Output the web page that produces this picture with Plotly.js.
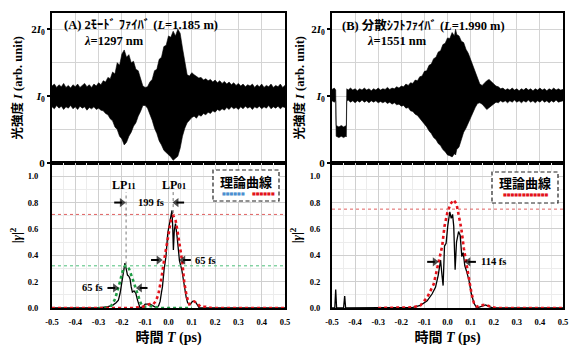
<!DOCTYPE html>
<html><head><meta charset="utf-8">
<script src="https://cdn.plot.ly/plotly-3.0.1.min.js"></script>
<style>html,body{margin:0;padding:0;background:#fff}#chart{width:580px;height:357px}</style>
</head><body><div id="chart"></div>
<script>
// ---------- DATA ----------
// (A) 2-mode fiber interferogram envelope (sampled every 0.01 ps)
const aT = [-0.50,-0.49,-0.48,-0.47,-0.46,-0.45,-0.44,-0.43,-0.42,-0.41,-0.40,-0.39,-0.38,-0.37,-0.36,-0.35,-0.34,-0.33,-0.32,-0.31,-0.30,-0.29,-0.28,-0.27,-0.26,-0.25,-0.24,-0.23,-0.22,-0.21,-0.20,-0.19,-0.18,-0.17,-0.16,-0.15,-0.14,-0.13,-0.12,-0.11,-0.10,-0.09,-0.08,-0.07,-0.06,-0.05,-0.04,-0.03,-0.02,-0.01,0.00,0.01,0.02,0.03,0.04,0.05,0.06,0.07,0.08,0.09,0.10,0.11,0.12,0.13,0.14,0.15,0.16,0.17,0.18,0.19,0.20,0.21,0.22,0.23,0.24,0.25,0.26,0.27,0.28,0.29,0.30,0.31,0.32,0.33,0.34,0.35,0.36,0.37,0.38,0.39,0.40,0.41,0.42,0.43,0.44,0.45,0.46,0.47,0.48,0.49,0.50];
const aUp = [1.15,1.18,1.13,1.17,1.14,1.19,1.13,1.16,1.12,1.17,1.14,1.18,1.13,1.16,1.19,1.14,1.17,1.13,1.18,1.15,1.20,1.17,1.23,1.21,1.28,1.26,1.36,1.33,1.50,1.46,1.63,1.69,1.58,1.62,1.50,1.52,1.40,1.38,1.26,1.15,1.13,1.14,1.21,1.25,1.38,1.40,1.55,1.58,1.74,1.76,1.90,1.88,1.97,1.90,2.00,1.94,1.72,1.52,1.32,1.30,1.35,1.32,1.29,1.27,1.28,1.24,1.26,1.23,1.25,1.21,1.24,1.20,1.23,1.19,1.22,1.18,1.21,1.17,1.20,1.16,1.19,1.15,1.18,1.14,1.17,1.15,1.18,1.13,1.17,1.14,1.18,1.13,1.16,1.14,1.18,1.13,1.16,1.14,1.18,1.13,1.16];
const aLo = [0.84,0.81,0.86,0.82,0.85,0.80,0.84,0.82,0.86,0.81,0.84,0.80,0.85,0.82,0.84,0.79,0.83,0.81,0.84,0.80,0.82,0.79,0.78,0.74,0.72,0.66,0.63,0.54,0.50,0.40,0.36,0.27,0.31,0.40,0.46,0.55,0.60,0.70,0.77,0.86,0.86,0.82,0.73,0.64,0.52,0.44,0.33,0.27,0.19,0.16,0.12,0.09,0.04,0.07,0.10,0.22,0.40,0.52,0.60,0.64,0.68,0.70,0.67,0.72,0.70,0.74,0.72,0.76,0.74,0.78,0.76,0.80,0.78,0.81,0.79,0.83,0.80,0.84,0.81,0.83,0.80,0.84,0.81,0.85,0.82,0.84,0.80,0.84,0.82,0.85,0.81,0.84,0.82,0.86,0.81,0.84,0.82,0.85,0.81,0.84,0.83];

// (B) dispersion-shifted fiber interferogram envelope
const bT = [-0.50,-0.49,-0.484,-0.482,-0.47,-0.46,-0.45,-0.44,-0.438,-0.436,-0.43,-0.42,-0.41,-0.40,-0.39,-0.38,-0.37,-0.36,-0.35,-0.34,-0.33,-0.32,-0.31,-0.30,-0.29,-0.28,-0.27,-0.26,-0.25,-0.24,-0.23,-0.22,-0.21,-0.20,-0.19,-0.18,-0.17,-0.16,-0.15,-0.14,-0.13,-0.12,-0.11,-0.10,-0.09,-0.08,-0.07,-0.06,-0.05,-0.04,-0.03,-0.02,-0.01,0.00,0.01,0.02,0.03,0.035,0.04,0.05,0.06,0.07,0.08,0.09,0.10,0.11,0.12,0.13,0.14,0.15,0.16,0.17,0.18,0.19,0.20,0.21,0.22,0.23,0.24,0.25,0.26,0.27,0.28,0.29,0.30,0.31,0.32,0.33,0.34,0.35,0.36,0.37,0.38,0.39,0.40,0.41,0.42,0.43,0.44,0.45,0.46,0.47,0.48,0.49,0.50];
const bUp = [1.10,1.12,1.09,0.56,0.54,0.56,0.54,0.55,0.56,1.11,1.09,1.12,1.09,1.11,1.08,1.11,1.09,1.12,1.09,1.11,1.08,1.11,1.09,1.12,1.09,1.11,1.10,1.13,1.10,1.12,1.11,1.14,1.12,1.15,1.14,1.18,1.16,1.20,1.19,1.24,1.23,1.29,1.30,1.37,1.38,1.46,1.48,1.56,1.58,1.66,1.68,1.77,1.79,1.87,1.86,1.95,1.90,2.00,1.92,1.90,1.82,1.80,1.70,1.64,1.55,1.44,1.34,1.25,1.18,1.16,1.20,1.23,1.25,1.22,1.18,1.15,1.14,1.11,1.12,1.09,1.11,1.09,1.12,1.09,1.11,1.08,1.11,1.09,1.12,1.09,1.11,1.08,1.11,1.09,1.12,1.09,1.11,1.08,1.11,1.09,1.12,1.09,1.11,1.09,1.10];
const bLo = [0.93,0.91,0.93,0.40,0.38,0.40,0.38,0.40,0.39,0.92,0.94,0.91,0.93,0.90,0.93,0.91,0.94,0.91,0.93,0.90,0.93,0.91,0.93,0.90,0.92,0.90,0.92,0.89,0.91,0.88,0.90,0.87,0.88,0.85,0.86,0.82,0.83,0.78,0.77,0.73,0.71,0.66,0.63,0.58,0.54,0.48,0.44,0.38,0.35,0.29,0.26,0.20,0.17,0.12,0.11,0.09,0.14,0.12,0.20,0.24,0.36,0.46,0.52,0.60,0.68,0.75,0.83,0.89,0.90,0.88,0.84,0.80,0.82,0.86,0.88,0.91,0.90,0.93,0.91,0.93,0.90,0.93,0.91,0.94,0.91,0.93,0.90,0.93,0.91,0.94,0.91,0.93,0.90,0.93,0.91,0.94,0.91,0.93,0.90,0.93,0.91,0.94,0.91,0.92,0.93];

// (A) |gamma|^2 measured
const aMeasT = [-0.5,-0.3,-0.26,-0.24,-0.225,-0.215,-0.208,-0.2,-0.193,-0.187,-0.182,-0.176,-0.17,-0.165,-0.16,-0.155,-0.148,-0.14,-0.133,-0.127,-0.122,-0.11,-0.1,-0.09,-0.08,-0.07,-0.06,-0.05,-0.042,-0.036,-0.03,-0.026,-0.019,-0.011,-0.003,0.004,0.011,0.015,0.018,0.021,0.025,0.03,0.037,0.047,0.057,0.068,0.076,0.082,0.092,0.103,0.11,0.118,0.125,0.132,0.2,0.5];
const aMeasG = [0,0,0.01,0.02,0.04,0.06,0.11,0.2,0.27,0.34,0.30,0.25,0.24,0.22,0.16,0.12,0.13,0.11,0.06,0.02,0,0.01,0.03,0.03,0.03,0.02,0.01,0,0.02,0.05,0.12,0.16,0.29,0.39,0.57,0.64,0.72,0.74,0.62,0.44,0.59,0.64,0.54,0.36,0.29,0.16,0.08,0.04,0.025,0.05,0.05,0.04,0.02,0,0,0];
// (A) theory LP11 (green) and LP01 (red)
const aLP11T = [-0.3,-0.27,-0.25,-0.24,-0.229,-0.222,-0.215,-0.208,-0.2,-0.193,-0.186,-0.179,-0.172,-0.165,-0.158,-0.15,-0.143,-0.136,-0.129,-0.122,-0.115,-0.105,-0.094,-0.08,-0.06,-0.04,0.0,0.05,0.1];
const aLP11G = [0,0,0.01,0.03,0.07,0.11,0.16,0.2,0.26,0.3,0.32,0.32,0.31,0.28,0.24,0.2,0.16,0.12,0.08,0.05,0.02,0.01,0.01,0.015,0.01,0,0,0,0];
const aLP01T = [-0.5,-0.3,-0.15,-0.11,-0.094,-0.08,-0.065,-0.055,-0.044,-0.037,-0.03,-0.02,-0.008,0.003,0.011,0.021,0.031,0.039,0.049,0.059,0.068,0.078,0.089,0.1,0.11,0.12,0.137,0.16,0.186,0.25,0.5];
const aLP01G = [0,0,0,0.01,0.02,0.03,0.03,0.05,0.1,0.16,0.23,0.35,0.48,0.6,0.67,0.7,0.66,0.58,0.47,0.35,0.19,0.09,0.03,0.04,0.05,0.04,0.01,0.01,0,0,0];

// (B) |gamma|^2 measured
const bMeasT = [-0.5,-0.488,-0.484,-0.48,-0.45,-0.445,-0.441,-0.2,-0.15,-0.117,-0.088,-0.067,-0.052,-0.04,-0.03,-0.024,-0.019,-0.013,-0.006,0.001,0.01,0.016,0.022,0.027,0.033,0.039,0.048,0.055,0.062,0.068,0.075,0.084,0.093,0.103,0.114,0.126,0.145,0.165,0.18,0.2,0.5];
const bMeasG = [0,0,0.14,0,0,0.09,0,0,0.005,0.02,0.054,0.106,0.157,0.25,0.364,0.25,0.17,0.47,0.49,0.62,0.73,0.68,0.71,0.62,0.29,0.5,0.58,0.55,0.39,0.42,0.32,0.27,0.21,0.11,0.04,0,0.01,0.023,0.01,0,0];
// (B) theory (red)
const bThT = [-0.3,-0.2,-0.15,-0.117,-0.088,-0.06,-0.038,-0.023,-0.013,-0.001,0.013,0.027,0.039,0.049,0.06,0.071,0.083,0.093,0.103,0.114,0.128,0.143,0.165,0.187,0.21,0.3,0.5];
const bThG = [0,0,0.005,0.02,0.08,0.18,0.34,0.47,0.62,0.72,0.79,0.82,0.79,0.71,0.6,0.45,0.32,0.21,0.12,0.04,0.01,0.02,0.025,0.01,0,0,0];

// reference levels, LP centers, FWHM markers
const aRedLevel = 0.71, aGreenLevel = 0.32, bRedLevel = 0.75;
const lpCenters = [-0.182, 0.02];
const lpLabels = ['LP<span style="font-size:9px">11</span>', 'LP<span style="font-size:9px">01</span>'];
const sepLevel = 0.80, sepLabel = '199 fs';
const aFwhm11 = {y: 0.152, t0: -0.215, t1: -0.137, label: '65 fs', labelT: -0.328};
const aFwhm01 = {y: 0.364, t0: -0.028, t1: 0.049, label: '65 fs', labelT: 0.159};
const bFwhm = {y: 0.35, t0: -0.041, t1: 0.076, label: '114 fs', labelT: 0.199};
const legendTitle = '理論曲線';

// tick labels
const xTickVals = [-0.5,-0.4,-0.3,-0.2,-0.1,0,0.1,0.2,0.3,0.4,0.5];
const xTickText = ['-0.5','-0.4','-0.3','-0.2','-0.1','0.0','0.1','0.2','0.3','0.4','0.5'];
const gTickVals = [0,0.2,0.4,0.6,0.8,1.0];
const gTickText = ['0.0','0.2','0.4','0.6','0.8','1.0'];
const iTickVals = [0,1,2];
const iTickText = ['0','<i>I</i><sub>0</sub>','2<i>I</i><sub>0</sub>'];

// ---------- LAYOUT HELPERS ----------
const W = 580, H = 357;
const px = v => v / W, py = v => 1 - v / H;
const SERIF = 'Liberation Serif, "Noto Sans CJK JP", serif';
const GOTHIC = '"Noto Sans CJK JP", sans-serif';
const domL = [px(52), px(285)], domR = [px(332), px(563)];
const domTop = [py(163), py(12.5)], domBot = [py(308), py(163)];
const RED = '#e3121b', GREEN = '#1f9e45', BLUE = '#4a8fd0';

function poly(t, up, lo, xa, ya) {
  return {type:'scatter', mode:'lines', xaxis:xa, yaxis:ya,
    x: t.concat(t.slice().reverse()), y: up.concat(lo.slice().reverse()),
    fill:'toself', fillcolor:'#000', line:{color:'#000', width:0.6}, hoverinfo:'skip'};
}
// FWHM / separation arrow: short shaft + triangle head whose point touches tipT
function arrowTrace(xa, ya, tipT, y, dir) {
  return {type:'scatter', mode:'lines+markers', xaxis:xa, yaxis:ya,
    x:[tipT - dir*0.047, tipT - dir*0.014], y:[y, y],
    line:{color:'#000', width:2},
    marker:{symbol:['circle', dir > 0 ? 'triangle-right' : 'triangle-left'], size:[0, 8], color:'#000', line:{width:0}},
    hoverinfo:'skip'};
}
const traces = [
  poly(aT, aUp, aLo, 'x', 'y'),
  poly(bT, bUp, bLo, 'x2', 'y2'),
  {type:'scatter', mode:'lines', x:aMeasT, y:aMeasG, xaxis:'x3', yaxis:'y3', line:{color:'#000', width:1.3}},
  {type:'scatter', mode:'lines', x:aLP11T, y:aLP11G, xaxis:'x3', yaxis:'y3', line:{color:GREEN, width:2.6, dash:'dot'}},
  {type:'scatter', mode:'lines', x:aLP01T, y:aLP01G, xaxis:'x3', yaxis:'y3', line:{color:RED, width:2.6, dash:'dot'}},
  {type:'scatter', mode:'lines', x:bMeasT, y:bMeasG, xaxis:'x4', yaxis:'y4', line:{color:'#000', width:1.3}},
  {type:'scatter', mode:'lines', x:bThT, y:bThG, xaxis:'x4', yaxis:'y4', line:{color:RED, width:2.6, dash:'dot'}},
  arrowTrace('x3','y3', lpCenters[0]-0.004, sepLevel, 1),
  arrowTrace('x3','y3', lpCenters[1], sepLevel, -1),
  arrowTrace('x3','y3', aFwhm11.t0, aFwhm11.y, 1),
  arrowTrace('x3','y3', aFwhm11.t1, aFwhm11.y, -1),
  arrowTrace('x3','y3', aFwhm01.t0, aFwhm01.y, 1),
  arrowTrace('x3','y3', aFwhm01.t1, aFwhm01.y, -1),
  arrowTrace('x4','y4', bFwhm.t0, bFwhm.y, 1),
  arrowTrace('x4','y4', bFwhm.t1, bFwhm.y, -1)
];

const frame = {showline:true, mirror:true, linewidth:2, linecolor:'#000', zeroline:false};
function topX(dom, anchor){ return Object.assign({domain:dom, anchor:anchor, range:[-0.5,0.5], tickmode:'linear', tick0:0, dtick:0.1, showticklabels:false, ticks:'', showgrid:true, gridcolor:'#d4d4d4', gridwidth:1}, frame); }
function topY(dom, anchor, standoff){ return Object.assign({domain:dom, anchor:anchor, range:[0,2.25], tickmode:'array', tickvals:iTickVals, ticktext:iTickText, ticks:'outside', ticklen:3, tickwidth:1.5, tickcolor:'#000', showgrid:true, gridcolor:'#d4d4d4',
  minor:{tickmode:'linear', tick0:0, dtick:0.5, showgrid:true, gridcolor:'#d4d4d4', ticks:''}, tickfont:{family:SERIF, size:11, weight:'bold', color:'#000'},
  title:{text:'光強度 <i>I</i> (arb. unit)', font:{family:SERIF, size:12.5, weight:'bold', color:'#000'}, standoff:standoff}}, frame); }
function botX(dom, anchor){ return Object.assign({domain:dom, anchor:anchor, range:[-0.5,0.5], tickmode:'array', tickvals:xTickVals, ticktext:xTickText, ticks:'', ticklabelstandoff:5, showgrid:true, gridcolor:'#cfcfcf', minor:{tickmode:'linear', tick0:0, dtick:0.05, showgrid:true, gridcolor:'#ececec'}, tickfont:{family:SERIF, size:8.5, weight:'bold', color:'#000'},
  title:{text:'時間 <i>T</i> (ps)', font:{family:SERIF, size:14, weight:'bold', color:'#000'}, standoff:6}}, frame); }
function botY(dom, anchor, lso, standoff){ return Object.assign({domain:dom, anchor:anchor, range:[0,1.1], tickmode:'array', tickvals:gTickVals, ticktext:gTickText, ticks:'', ticklabelstandoff:lso, showgrid:true, gridcolor:'#cfcfcf', minor:{tickmode:'linear', tick0:0, dtick:0.1, showgrid:true, gridcolor:'#ececec'}, tickfont:{family:SERIF, size:8.5, weight:'bold', color:'#000'},
  title:{text:'|<i>γ</i>|<sup>2</sup>', font:{family:SERIF, size:13, weight:'bold', color:'#000'}, standoff:standoff}}, frame); }

const tf = (size) => ({family:SERIF, size:size, weight:'bold', color:'#000'});
// legend sample: a row of small square dots drawn as text
const dots = (color, n) => '<span style="color:' + color + '">' + '■'.repeat(n) + '</span>';
function paperText(x, y, text, font){ return {xref:'paper', yref:'paper', x:px(x), y:py(y), xanchor:'center', yanchor:'middle', showarrow:false, text:text, font:font}; }
const legFont = {family:GOTHIC, size:13, weight:'bold', color:'#000'};

const annotations = [
  {xref:'x', yref:'y', x:-0.457, y:2.06, xanchor:'left', yanchor:'middle', showarrow:false, text:'(A) 2ﾓｰﾄﾞ ﾌｧｲﾊﾞ (<i>L</i>=1.185 m)', font:tf(12.5)},
  {xref:'x', yref:'y', x:-0.371, y:1.83, xanchor:'left', yanchor:'middle', showarrow:false, text:'<i>λ</i>=1297 nm', font:tf(12.5)},
  {xref:'x2', yref:'y2', x:-0.465, y:2.06, xanchor:'left', yanchor:'middle', showarrow:false, text:'(B) 分散ｼﾌﾄﾌｧｲﾊﾞ (<i>L</i>=1.990 m)', font:tf(12.5)},
  {xref:'x2', yref:'y2', x:-0.357, y:1.83, xanchor:'left', yanchor:'middle', showarrow:false, text:'<i>λ</i>=1551 nm', font:tf(12.5)},
  {xref:'x3', yref:'y3', x:lpCenters[0]-0.01, y:0.93, xanchor:'center', yanchor:'middle', showarrow:false, text:lpLabels[0], font:tf(12)},
  {xref:'x3', yref:'y3', x:lpCenters[1]+0.005, y:0.93, xanchor:'center', yanchor:'middle', showarrow:false, text:lpLabels[1], font:tf(12)},
  {xref:'x3', yref:'y3', x:(lpCenters[0]+lpCenters[1])/2+0.004, y:sepLevel, xanchor:'center', yanchor:'middle', showarrow:false, text:sepLabel, font:tf(10.5)},
  {xref:'x3', yref:'y3', x:aFwhm11.labelT, y:aFwhm11.y, xanchor:'center', yanchor:'middle', showarrow:false, text:aFwhm11.label, font:tf(10.5)},
  {xref:'x3', yref:'y3', x:aFwhm01.labelT, y:aFwhm01.y, xanchor:'center', yanchor:'middle', showarrow:false, text:aFwhm01.label, font:tf(10.5)},
  {xref:'x4', yref:'y4', x:bFwhm.labelT, y:bFwhm.y, xanchor:'center', yanchor:'middle', showarrow:false, text:bFwhm.label, font:tf(10.5)},
  // legend boxes
  paperText(246, 181, legendTitle, legFont),
  paperText(233.5, 193, dots(BLUE, 6), {family:'DejaVu Sans', size:4, color:BLUE}),
  paperText(263.5, 193, dots(RED, 6), {family:'DejaVu Sans', size:4, color:RED}),
  paperText(525, 183, legendTitle, legFont),
  paperText(526, 195, dots(RED, 12), {family:'DejaVu Sans', size:4, color:RED})
];

const shapes = [
  {type:'line', xref:'x3 domain', yref:'y3', x0:0, x1:1, y0:aRedLevel, y1:aRedLevel, line:{color:'#e06060', width:1, dash:'dot'}},
  {type:'line', xref:'x3 domain', yref:'y3', x0:0, x1:1, y0:aGreenLevel, y1:aGreenLevel, line:{color:'#4cbf7a', width:1, dash:'dot'}},
  {type:'line', xref:'x4 domain', yref:'y4', x0:0, x1:1, y0:bRedLevel, y1:bRedLevel, line:{color:'#e06060', width:1, dash:'dot'}},
  {type:'line', xref:'x3', yref:'y3', x0:lpCenters[0], x1:lpCenters[0], y0:0.33, y1:0.88, line:{color:'#777', width:1, dash:'dot'}},
  {type:'line', xref:'x3', yref:'y3', x0:lpCenters[1], x1:lpCenters[1], y0:0.72, y1:0.88, line:{color:'#777', width:1, dash:'dot'}},
  {type:'rect', layer:'above', xref:'paper', yref:'paper', x0:px(213), x1:px(279), y0:py(201), y1:py(170), fillcolor:'#fff', line:{color:'#222', width:1.2, dash:'4px,2.5px'}},
  {type:'rect', layer:'above', xref:'paper', yref:'paper', x0:px(492), x1:px(558), y0:py(203), y1:py(172), fillcolor:'#fff', line:{color:'#222', width:1.2, dash:'4px,2.5px'}}
];

const layout = {
  width:W, height:H, margin:{l:0, r:0, t:0, b:0}, paper_bgcolor:'#fff', plot_bgcolor:'#fff', showlegend:false,
  font:{family:SERIF, color:'#000'},
  xaxis: topX(domL, 'y'), yaxis: topY(domTop, 'x', 6),
  xaxis2: topX(domR, 'y2'), yaxis2: topY(domTop, 'x2', 4),
  xaxis3: botX(domL, 'y3'), yaxis3: botY(domBot, 'x3', 10, 3),
  xaxis4: botX(domR, 'y4'), yaxis4: botY(domBot, 'x4', 8, 5),
  annotations: annotations, shapes: shapes
};
Plotly.newPlot('chart', traces, layout, {staticPlot:true, displayModeBar:false});
</script></body></html>
